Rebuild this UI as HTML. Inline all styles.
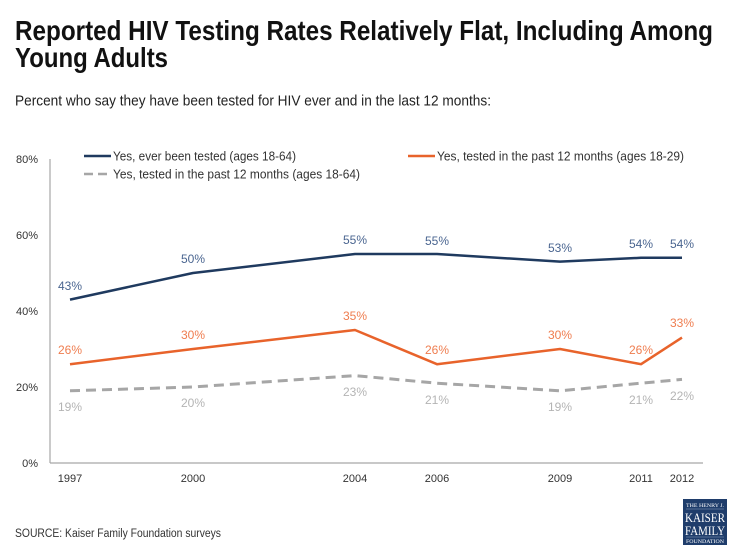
<!DOCTYPE html>
<html><head><meta charset="utf-8"><style>
html,body{margin:0;padding:0;background:#fff;}
svg{display:block;}
</style></head><body>
<svg width="735" height="551" viewBox="0 0 735 551" xmlns="http://www.w3.org/2000/svg" font-family="Liberation Sans, sans-serif">
<rect width="735" height="551" fill="#fff"/>
<text x="15" y="40" font-size="27.5" font-weight="bold" fill="#111" textLength="698" lengthAdjust="spacingAndGlyphs">Reported HIV Testing Rates Relatively Flat, Including Among</text>
<text x="15" y="67" font-size="27.5" font-weight="bold" fill="#111" textLength="153" lengthAdjust="spacingAndGlyphs">Young Adults</text>
<text x="15" y="105.5" font-size="14.5" fill="#222" textLength="476" lengthAdjust="spacingAndGlyphs">Percent who say they have been tested for HIV ever and in the last 12 months:</text>

<!-- axes -->
<line x1="50" y1="159" x2="50" y2="463" stroke="#a6a6a6" stroke-width="1.2"/>
<line x1="50" y1="463" x2="703" y2="463" stroke="#a6a6a6" stroke-width="1.2"/>
<g font-size="11" fill="#333" text-anchor="end">
<text x="38" y="163">80%</text>
<text x="38" y="239">60%</text>
<text x="38" y="315">40%</text>
<text x="38" y="391">20%</text>
<text x="38" y="467">0%</text>
</g>
<g font-size="11" fill="#333" text-anchor="middle">
<text x="70" y="482">1997</text>
<text x="193" y="482">2000</text>
<text x="355" y="482">2004</text>
<text x="437" y="482">2006</text>
<text x="560" y="482">2009</text>
<text x="641" y="482">2011</text>
<text x="682" y="482">2012</text>
</g>

<!-- legend -->
<line x1="84" y1="156" x2="111" y2="156" stroke="#1f3a5f" stroke-width="2.5"/>
<text x="113" y="160.5" font-size="12.5" fill="#333" textLength="183" lengthAdjust="spacingAndGlyphs">Yes, ever been tested (ages 18-64)</text>
<line x1="84" y1="174" x2="109" y2="174" stroke="#a6a6a6" stroke-width="2.5" stroke-dasharray="9,5"/>
<text x="113" y="178.5" font-size="12.5" fill="#333" textLength="247" lengthAdjust="spacingAndGlyphs">Yes, tested in the past 12 months (ages 18-64)</text>
<line x1="408" y1="156" x2="435" y2="156" stroke="#e8632b" stroke-width="2.5"/>
<text x="437" y="160.5" font-size="12.5" fill="#333" textLength="247" lengthAdjust="spacingAndGlyphs">Yes, tested in the past 12 months (ages 18-29)</text>

<!-- series -->
<polyline fill="none" stroke="#1f3a5f" stroke-width="2.5" stroke-linejoin="round" points="70,299.6 193,273 355,254 437,254 560,261.6 641,257.8 682,257.8"/>
<polyline fill="none" stroke="#e8632b" stroke-width="2.5" stroke-linejoin="round" points="70,364.2 193,349 355,330 437,364.2 560,349 641,364.2 682,337.6"/>
<polyline fill="none" stroke="#a6a6a6" stroke-width="3" stroke-dasharray="10,6" points="70,390.8 193,387 355,375.6 437,383.2 560,390.8 641,383.2 682,379.4"/>

<!-- data labels -->
<g font-size="12" fill="#4a6590" text-anchor="middle">
<text x="70" y="290">43%</text>
<text x="193" y="263">50%</text>
<text x="355" y="244">55%</text>
<text x="437" y="245">55%</text>
<text x="560" y="252">53%</text>
<text x="641" y="248">54%</text>
<text x="682" y="248">54%</text>
</g>
<g font-size="12" fill="#ef7d4f" text-anchor="middle">
<text x="70" y="354">26%</text>
<text x="193" y="339">30%</text>
<text x="355" y="320">35%</text>
<text x="437" y="354">26%</text>
<text x="560" y="339">30%</text>
<text x="641" y="354">26%</text>
<text x="682" y="327">33%</text>
</g>
<g font-size="12" fill="#b4b4b4" text-anchor="middle">
<text x="70" y="411">19%</text>
<text x="193" y="407">20%</text>
<text x="355" y="396">23%</text>
<text x="437" y="404">21%</text>
<text x="560" y="411">19%</text>
<text x="641" y="404">21%</text>
<text x="682" y="400">22%</text>
</g>

<text x="15" y="537" font-size="11.5" fill="#333" textLength="206" lengthAdjust="spacingAndGlyphs">SOURCE: Kaiser Family Foundation surveys</text>

<!-- logo -->
<rect x="683" y="499" width="44" height="46" fill="#1f3d6b"/>
<g font-family="Liberation Serif, serif" fill="#fff" text-anchor="middle">
<text x="705" y="507" font-size="5" textLength="38" lengthAdjust="spacingAndGlyphs">THE HENRY J.</text>
<line x1="686" y1="509" x2="724" y2="509" stroke="#8fa3c2" stroke-width="0.5"/>
<text x="705" y="522" font-size="13" textLength="40" lengthAdjust="spacingAndGlyphs">KAISER</text>
<text x="705" y="535" font-size="13" textLength="40" lengthAdjust="spacingAndGlyphs">FAMILY</text>
<line x1="686" y1="537" x2="724" y2="537" stroke="#8fa3c2" stroke-width="0.5"/>
<text x="705" y="543" font-size="5" textLength="38" lengthAdjust="spacingAndGlyphs">FOUNDATION</text>
</g>
</svg>
</body></html>
